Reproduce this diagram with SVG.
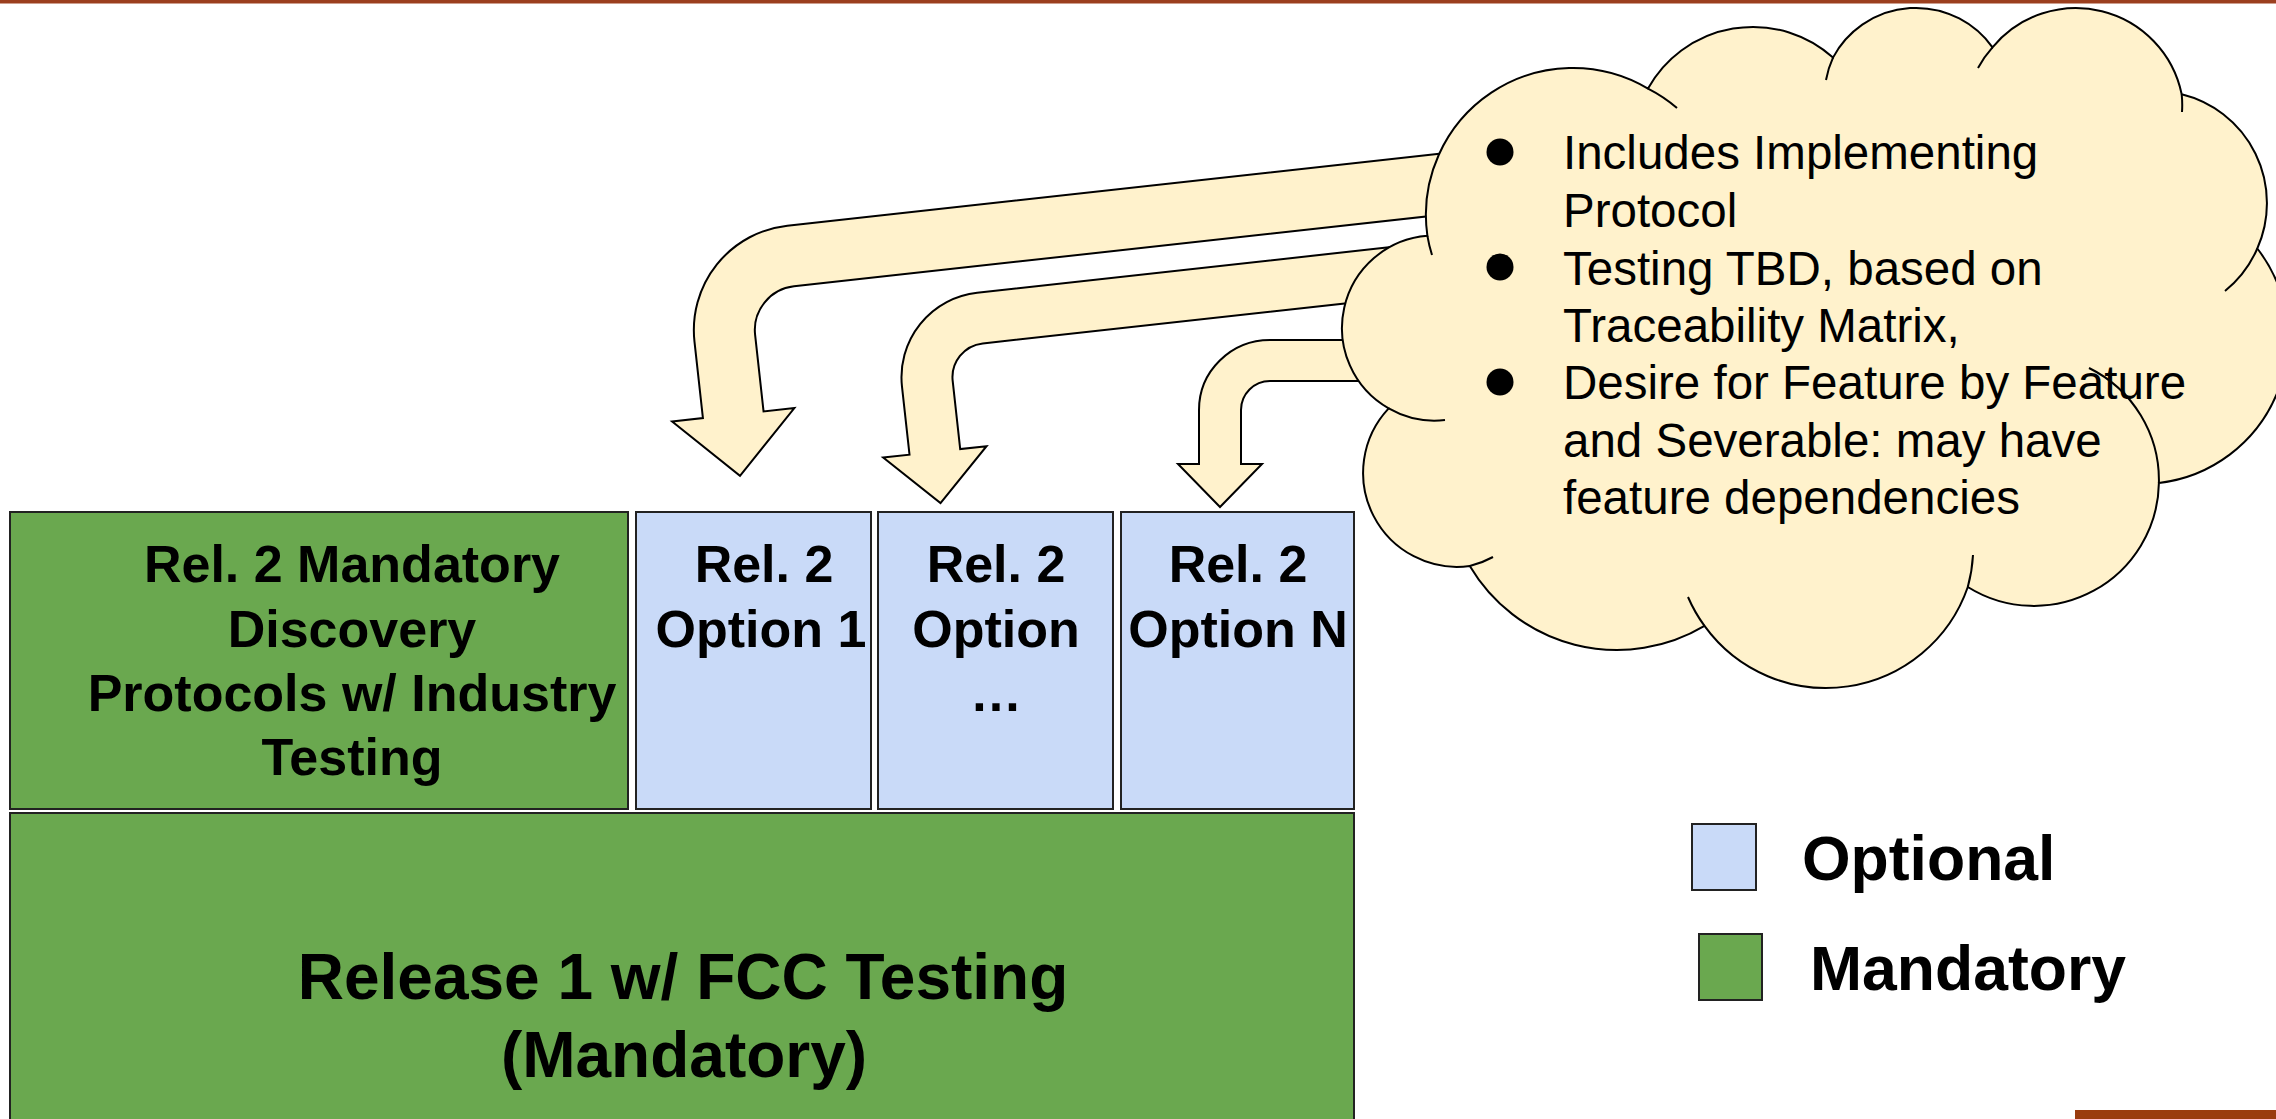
<svg xmlns="http://www.w3.org/2000/svg" width="2276" height="1119" viewBox="0 0 2276 1119">
<style>
.box{stroke:#222;stroke-width:2}
.green{fill:#6aa84f}
.blue{fill:#c9daf8}
.arrow{fill:#fff2cc;stroke:#000;stroke-width:2;stroke-linejoin:miter}
.cloud{fill:#fff2cc;stroke:#000;stroke-width:2}
.crease{fill:none;stroke:#000;stroke-width:2}
.bt{font-family:"Liberation Sans",Arial,sans-serif;font-weight:bold;fill:#000;text-anchor:middle}
.ct{font-family:"Liberation Sans",Arial,sans-serif;font-size:47.5px;fill:#000}
.lg{font-family:"Liberation Sans",Arial,sans-serif;font-weight:bold;font-size:62.5px;fill:#000}
</style>
<rect x="0" y="0" width="2276" height="3.5" fill="#9b3f1f"/>
<rect x="2075" y="1110" width="201" height="9" fill="#9a3c0e"/>

<g id="node-release1">
<rect class="box green" x="10" y="813" width="1344" height="330"/>
<text class="bt" font-size="64" x="683" y="999">Release 1 w/ FCC Testing</text>
<text class="bt" font-size="64" x="684" y="1077">(Mandatory)</text>
</g>

<g id="node-rel2-mandatory">
<rect class="box green" x="10" y="512" width="618" height="297"/>
<text class="bt" font-size="52"><tspan x="352" y="582">Rel. 2 Mandatory</tspan><tspan x="352" y="647">Discovery</tspan><tspan x="352" y="711">Protocols w/ Industry</tspan><tspan x="352" y="775">Testing</tspan></text>
</g>

<g id="node-option1">
<rect class="box blue" x="636" y="512" width="235" height="297"/>
<text class="bt" font-size="52"><tspan x="764" y="582">Rel. 2</tspan><tspan x="761" y="647">Option 1</tspan></text>
</g>

<g id="node-option-dots">
<rect class="box blue" x="878" y="512" width="235" height="297"/>
<text class="bt" font-size="52"><tspan x="996" y="582">Rel. 2</tspan><tspan x="996" y="647">Option</tspan><tspan x="996" y="711">…</tspan></text>
</g>

<g id="node-optionN">
<rect class="box blue" x="1121" y="512" width="233" height="297"/>
<text class="bt" font-size="52"><tspan x="1238" y="582">Rel. 2</tspan><tspan x="1238" y="647">Option N</tspan></text>
</g>

<g id="connectors">
<path class="arrow" transform="rotate(-6.3 739 476)" d="M1500,232.5 L814.5,232.5 A105,105 0 0 0 709.5,337.5 L709.5,414.5 L678.5,414.5 L740,476 L801.5,414.5 L770.5,414.5 L770.5,337.5 A44,44 0 0 1 814.5,293.5 L1500,293.5 Z"/>
<path class="arrow" transform="rotate(-6.3 941 503)" d="M1480,298 L1000,298 A85,85 0 0 0 915,383 L915,451.5 L888.5,451.5 L940.5,503 L992.5,451.5 L966,451.5 L966,383 A34,34 0 0 1 1000,349 L1480,349 Z"/>
<path class="arrow" d="M1430,340 L1270,340 A71,70 0 0 0 1199,410 L1199,464 L1178,464 L1220,507 L1262,464 L1241,464 L1241,410 A29,29 0 0 1 1270,381 L1430,381 Z"/>
</g>

<g id="node-cloud">
<path class="cloud" d="M1427.4,235.8 A147,147 0 0 1 1648,88.6 A120,120 0 0 1 1833,57.6 A94,94 0 0 1 1992.5,47.4 A108,108 0 0 1 2181.7,94.3 A112,112 0 0 1 2257.3,248.5 A146,146 0 0 1 2158.9,483 A125,125 0 0 1 1967.8,587 A150,150 0 0 1 1704.5,625.9 A171,171 0 0 1 1469.8,566 A94,94 0 0 1 1388.7,408.4 A92.5,92.5 0 0 1 1427.4,235.8 Z"/>
<path class="crease" d="M1427.4,235.8 A147,147 0 0 0 1432,255 M1648,88.6 A147,147 0 0 1 1677,108 M1833,57.6 A94,94 0 0 0 1826,80 M1992.5,47.4 A108,108 0 0 0 1978,68 M2181.7,94.3 A108,108 0 0 1 2182,112 M2257.3,248.5 A112,112 0 0 1 2225,291 M2158.9,483 A125,125 0 0 0 2089,368 M1967.8,587 A150,150 0 0 0 1973,555 M1704.5,625.9 A150,150 0 0 1 1688,597 M1469.8,566 A94,94 0 0 0 1493,557 M1388.7,408.4 A92.5,92.5 0 0 0 1445,420"/>
<circle cx="1500" cy="152" r="13.5"/>
<circle cx="1500" cy="267" r="13.5"/>
<circle cx="1500" cy="382" r="13.5"/>
<text class="ct"><tspan x="1563" y="169">Includes Implementing</tspan><tspan x="1563" y="227">Protocol</tspan><tspan x="1563" y="285">Testing TBD, based on</tspan><tspan x="1563" y="342">Traceability Matrix,</tspan><tspan x="1563" y="399">Desire for Feature by Feature</tspan><tspan x="1563" y="457">and Severable: may have</tspan><tspan x="1563" y="514">feature dependencies</tspan></text>
</g>

<g id="legend-optional">
<rect class="box blue" x="1692" y="824" width="64" height="66"/>
<text class="lg" x="1802" y="880">Optional</text>
</g>
<g id="legend-mandatory">
<rect class="box green" x="1699" y="934" width="63" height="66"/>
<text class="lg" x="1810" y="990">Mandatory</text>
</g>
</svg>
